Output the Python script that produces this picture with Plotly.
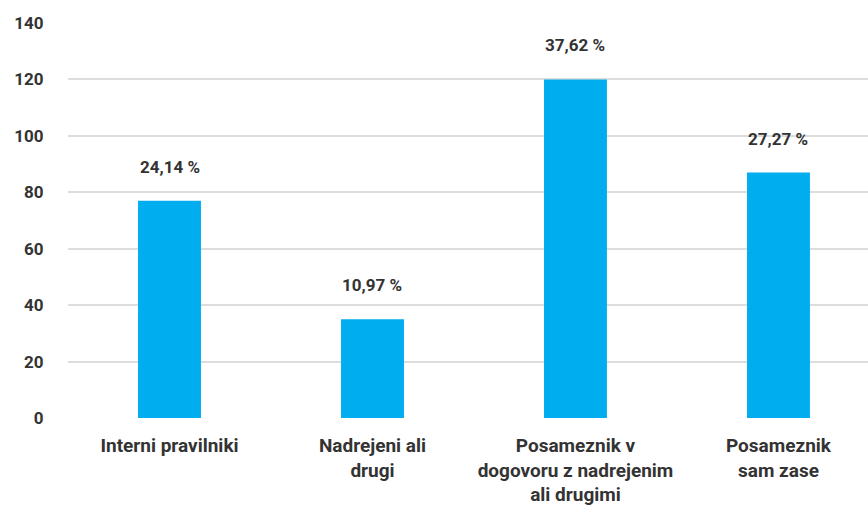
import plotly.graph_objects as go

categories = ["Interni pravilniki", "Nadrejeni ali<br>drugi", "Posameznik v<br>dogovoru z nadrejenim<br>ali drugimi", "Posameznik<br>sam zase"]
values = [77, 35, 120, 87]
labels = ["24,14 %", "10,97 %", "37,62 %", "27,27 %"]
yticks = [0, 20, 40, 60, 80, 100, 120, 140]

x = list(range(len(categories)))
fig = go.Figure()
fig.add_trace(go.Bar(x=x, y=values, width=0.31, marker=dict(color="#00AEEF", line=dict(width=0)),
                     hoverinfo="skip"))
for xi, v, t in zip(x, values, labels):
    fig.add_annotation(x=xi, y=v, text=t, showarrow=False, yanchor="bottom", yshift=22,
                       font=dict(family="Roboto", size=17, color="#333333", weight="bold"))

fig.update_layout(
    width=868, height=506, margin=dict(l=68, r=0, t=23, b=88),
    plot_bgcolor="white", paper_bgcolor="white", showlegend=False,
    font=dict(family="Roboto", size=16, color="#333333"),
)
fig.update_xaxes(tickvals=x, ticktext=["<b>%s</b>" % c for c in categories], range=[-0.5, 3.441],
                 showgrid=False, zeroline=False, showline=False,
                 ticks="outside", ticklen=10, tickcolor="white",
                 tickfont=dict(family="Roboto", size=19, color="#333333"))
fig.update_yaxes(range=[0, 140], tickvals=yticks, ticktext=["<b>%d</b>" % t for t in yticks],
                 showgrid=True, gridcolor="#dddddd", gridwidth=2, zeroline=False,
                 ticks="outside", ticklen=20, tickcolor="white",
                 tickfont=dict(family="Roboto", size=17, color="#333333"))
fig.write_html("out.html")
